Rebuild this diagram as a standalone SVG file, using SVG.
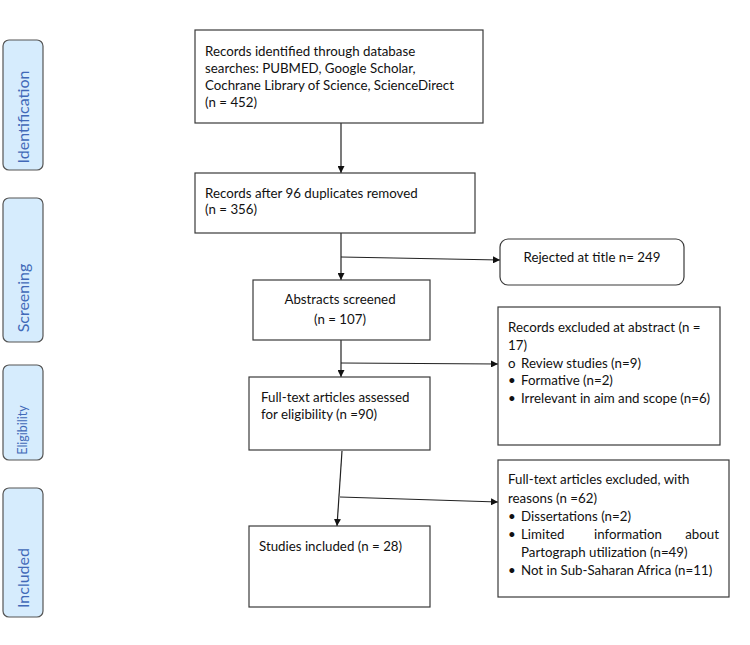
<svg xmlns="http://www.w3.org/2000/svg" width="750" height="645" viewBox="0 0 750 645">
<style>
.box{fill:#fff;stroke:#3a3a3a;stroke-width:1.2}
.side{fill:#d6ecfd;stroke:#555;stroke-width:1.2}
.t{font-family:Lato,"Liberation Sans",sans-serif;font-size:13.3px;fill:#111}
.s{font-family:Lato,"Liberation Sans",sans-serif;font-size:16px;fill:#4169b8}
.c{stroke:#222;stroke-width:1.2;fill:none}
</style>
<defs>
<marker id="ah" viewBox="0 0 10 10" refX="10" refY="5" markerWidth="7" markerHeight="7" orient="auto" markerUnits="userSpaceOnUse">
<path d="M0,0 L10,5 L0,10 z" fill="#111"/>
</marker>
</defs>
<rect width="750" height="645" fill="#fff"/>
<g id="side-identification">
<rect class="side" x="3" y="40" width="40" height="130" rx="6"/>
<text class="s" transform="translate(29,117) rotate(-90)" text-anchor="middle">Identification</text>
</g>
<g id="side-screening">
<rect class="side" x="3" y="198" width="40" height="144" rx="6"/>
<text class="s" transform="translate(29,298) rotate(-90)" text-anchor="middle">Screening</text>
</g>
<g id="side-eligibility">
<rect class="side" x="3" y="365" width="40" height="95" rx="6"/>
<text class="s" style="font-size:12.5px" transform="translate(27,430) rotate(-90)" text-anchor="middle">Eligibility</text>
</g>
<g id="side-included">
<rect class="side" x="3" y="488" width="40" height="129" rx="6"/>
<text class="s" transform="translate(29,578) rotate(-90)" text-anchor="middle">Included</text>
</g>
<g id="connectors">
<line class="c" x1="341" y1="123" x2="341" y2="173" marker-end="url(#ah)"/>
<line class="c" x1="341" y1="233" x2="341" y2="280" marker-end="url(#ah)"/>
<line class="c" x1="341" y1="257" x2="500" y2="260" marker-end="url(#ah)"/>
<line class="c" x1="341" y1="340" x2="341" y2="377" marker-end="url(#ah)"/>
<line class="c" x1="341" y1="363" x2="498" y2="364" marker-end="url(#ah)"/>
<line class="c" x1="342" y1="451" x2="337" y2="526" marker-end="url(#ah)"/>
<line class="c" x1="340" y1="497" x2="498" y2="502" marker-end="url(#ah)"/>
</g>
<g id="records-identified">
<rect class="box" x="195" y="30" width="288" height="93"/>
<text class="t" x="205" y="56">Records identified through database</text>
<text class="t" x="205" y="73">searches: PUBMED, Google Scholar,</text>
<text class="t" x="205" y="90">Cochrane Library of Science, ScienceDirect</text>
<text class="t" x="205" y="107">(n = 452)</text>
</g>
<g id="records-after-duplicates">
<rect class="box" x="195" y="173" width="280" height="60"/>
<text class="t" x="205" y="198">Records after 96 duplicates removed</text>
<text class="t" x="205" y="214">(n = 356)</text>
</g>
<g id="rejected-title">
<rect class="box" x="500" y="239" width="184" height="46" rx="8"/>
<text class="t" x="592" y="262" text-anchor="middle">Rejected at title n= 249</text>
</g>
<g id="abstracts-screened">
<rect class="box" x="253" y="280" width="177" height="60"/>
<text class="t" x="340" y="304" text-anchor="middle">Abstracts screened</text>
<text class="t" x="340" y="324" text-anchor="middle">(n = 107)</text>
</g>
<g id="excluded-abstract">
<rect class="box" x="498" y="307" width="222" height="138"/>
<text class="t" x="508" y="332">Records excluded at abstract (n =</text>
<text class="t" x="508" y="350">17)</text>
<text class="t" x="508" y="368">o</text>
<text class="t" x="521" y="368">Review studies (n=9)</text>
<text class="t" x="508" y="385">•</text>
<text class="t" x="521" y="385">Formative (n=2)</text>
<text class="t" x="508" y="403">•</text>
<text class="t" x="521" y="403">Irrelevant in aim and scope (n=6)</text>
</g>
<g id="fulltext-assessed">
<rect class="box" x="249" y="377" width="181" height="73"/>
<text class="t" x="261" y="402">Full-text articles assessed</text>
<text class="t" x="261" y="419">for eligibility (n =90)</text>
</g>
<g id="fulltext-excluded">
<rect class="box" x="498" y="460" width="231" height="137"/>
<text class="t" x="508" y="484">Full-text articles excluded, with</text>
<text class="t" x="508" y="503">reasons (n =62)</text>
<text class="t" x="508" y="521">•</text>
<text class="t" x="521" y="521">Dissertations (n=2)</text>
<text class="t" x="508" y="539">•</text>
<text class="t" x="521" y="539">Limited</text>
<text class="t" x="628" y="539" text-anchor="middle">information</text>
<text class="t" x="719" y="539" text-anchor="end">about</text>
<text class="t" x="521" y="557">Partograph utilization (n=49)</text>
<text class="t" x="508" y="575">•</text>
<text class="t" x="521" y="575">Not in Sub-Saharan Africa (n=11)</text>
</g>
<g id="studies-included">
<rect class="box" x="249" y="526" width="181" height="81"/>
<text class="t" x="259" y="551">Studies included (n = 28)</text>
</g>
</svg>
